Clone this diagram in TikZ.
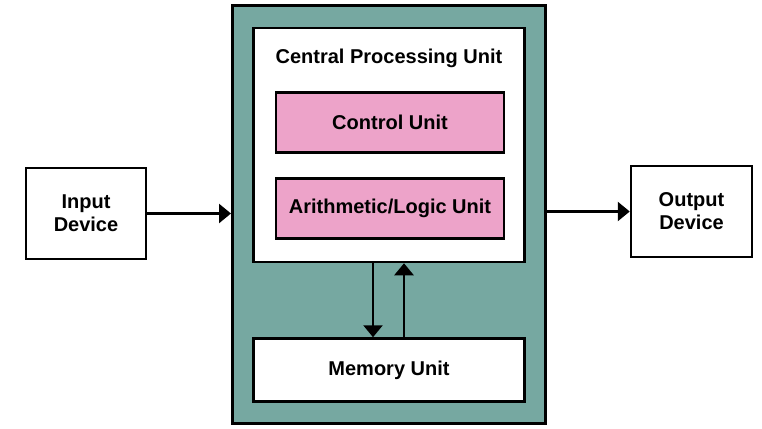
\documentclass[tikz,border=0pt]{standalone}
\usepackage{fontspec}
\setmainfont{Liberation Sans}
\usepackage{xcolor}
\usetikzlibrary{arrows.meta, positioning, calc}
\definecolor{systeal}{HTML}{76A8A1}
\definecolor{unitpink}{HTML}{EDA3C9}

\begin{document}
\begin{tikzpicture}[x=1pt, y=-1pt,
    box/.style={draw, line width=2.5pt, fill=white, minimum width=#1, align=center,
        font=\fontsize{20}{23}\selectfont\bfseries, inner sep=0pt},
    link/.style={line width=2.5pt, -{Triangle[length=12pt, width=19pt]}}]
    \useasboundingbox (0,0) rectangle (762,428);

    % System frame
    \node[box=313pt, minimum height=417pt, fill=systeal, line width=3pt] (sys) at (389,214.5) {};

    % CPU and its units
    \node[box=271pt, minimum height=234pt] (cpu) at (389,145) {};
    \node[font=\fontsize{20}{23}\selectfont\bfseries, anchor=center] (cputitle) at (389,58) {Central Processing Unit};
    \node[box=228pt, minimum height=60pt, fill=unitpink] (ctrl) at (390,122.5) {Control Unit};
    \node[box=228pt, minimum height=60pt, fill=unitpink] (alu) at (390,208.5) {Arithmetic/Logic Unit};

    % Memory
    \node[box=271pt, minimum height=63pt] (mem) at (389,370) {Memory Unit};

    % Devices
    \node[box=120pt, minimum height=91pt] (input) at (86,213.5) {Input\\Device};
    \node[box=121pt, minimum height=91pt] (output) at (691.5,211.5) {Output\\Device};

    % Connectors
    \draw[link] (input.east) -- (input.east -| sys.west);
    \draw[link] (output.west -| sys.east) -- (output.west);
    \draw[link] ($(cpu.south)+(-16,0)$) -- ($(mem.north)+(-16,0)$);
    \draw[link] ($(mem.north)+(15,0)$) -- ($(cpu.south)+(15,0)$);
\end{tikzpicture}
\end{document}
